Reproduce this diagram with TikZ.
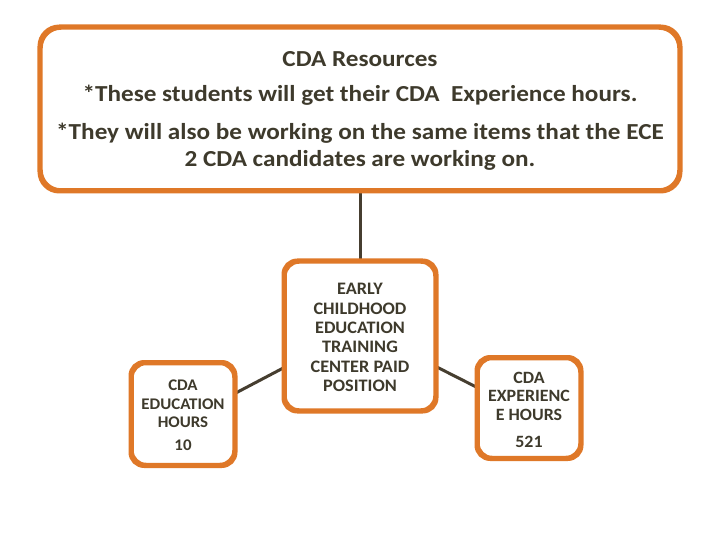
\documentclass[tikz,border=0pt]{standalone}
\usepackage{fontspec}
\setmainfont{Carlito}
\definecolor{boxorange}{RGB}{223,120,40}
\definecolor{txt}{RGB}{62,58,44}
\definecolor{linec}{RGB}{70,62,48}
\begin{document}
\begin{tikzpicture}[x=1bp,y=-1bp,
  obox/.style={draw=boxorange,line width=3.5bp,rounded corners=14bp,fill=white,inner sep=0pt},
  conn/.style={draw=linec,line width=3bp},
  ttxt/.style={text=txt,font=\bfseries\fontsize{23}{27}\selectfont,xscale=1.1},
  btxt/.style={text=txt,align=center,xscale=1.04}]
\useasboundingbox (0,0) rectangle (720,540);
\node[obox,minimum width=638bp,minimum height=162bp,rounded corners=20bp] (top) at (360,109) {};
\node[obox,minimum width=150bp,minimum height=148bp] (mid) at (360,336) {};
\node[obox,minimum width=102bp,minimum height=101bp] (left) at (183,414) {};
\node[obox,minimum width=102bp,minimum height=99bp] (right) at (529,408) {};
\draw[conn] (top.south) -- (mid.north);
\draw[conn] (mid.west |- 0,368) -- (left.east |- 0,393);
\draw[conn] (mid.east |- 0,367) -- (right.west |- 0,387);
% redraw box outlines over connector ends
\draw[draw=boxorange,line width=3.5bp,rounded corners=20bp] (top.north west) rectangle (top.south east);
\draw[draw=boxorange,line width=3.5bp,rounded corners=14bp] (mid.north west) rectangle (mid.south east);
\draw[draw=boxorange,line width=3.5bp,rounded corners=14bp] (left.north west) rectangle (left.south east);
\draw[draw=boxorange,line width=3.5bp,rounded corners=14bp] (right.north west) rectangle (right.south east);
% texts
\node[ttxt] (t1) at (360,59) {CDA Resources};
\node[ttxt] (t2) at (360,95) {*These students will get their CDA\ \ Experience hours.};
\node[ttxt,align=center] (t3) at (360,146.5) {*They will also be working on the same items that the ECE\\2 CDA candidates are working on.};
\node[btxt,font=\bfseries\fontsize{17.6}{19.4}\selectfont] (mt) at (360,337.5) {EARLY\\CHILDHOOD\\EDUCATION\\TRAINING\\CENTER PAID\\POSITION};
\node[btxt,font=\bfseries\fontsize{16.3}{18.5}\selectfont] (lt) at (183,415.5) {CDA\\EDUCATION\\HOURS\\[4.5bp]10};
\node[btxt,font=\bfseries\fontsize{17.3}{18.5}\selectfont] (rt) at (529,410) {CDA\\EXPERIENC\\E HOURS\\[9bp]521};
\end{tikzpicture}
\end{document}
